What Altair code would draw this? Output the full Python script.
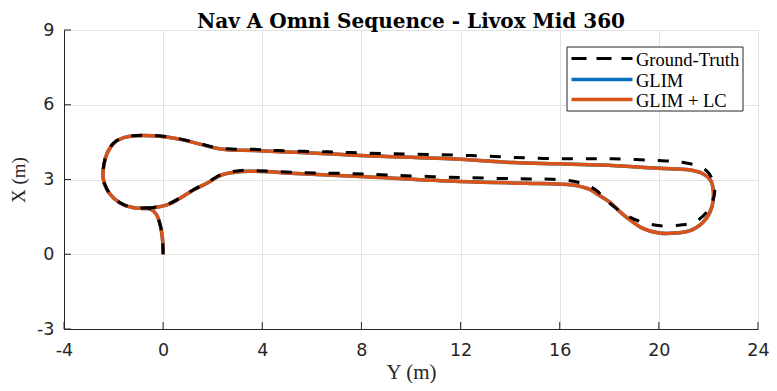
import altair as alt
import pandas as pd

series_names = ["Ground-Truth", "GLIM", "GLIM + LC"]
series_colors = ["#000000", "#0072BD", "#D95319"]

# Ground-truth trajectory (Y, X) in metres
gt_Y = [0.0, -0.03, -0.12, -0.28, -0.52, -1.06, -1.59, -1.99, -2.26, -2.42, -2.39, -2.26, -1.99, -1.59,
        -1.06, -0.46, 0.15, 0.81, 1.48, 2.02, 2.62, 3.69, 4.62, 6.63, 7.57, 9.3, 12.38, 15.19, 17.19,
        18.13, 20.0, 20.94, 21.8, 22.14, 22.25, 21.94, 21.47, 20.94, 20.07, 19.33, 18.66, 17.86, 17.46,
        16.73, 15.72, 14.79, 11.98, 9.04, 7.1, 6.1, 5.16, 4.09, 3.15, 2.35, 1.82, 1.22, 0.68, 0.15,
        -0.39, -0.9]
gt_X = [0.0, 0.65, 1.18, 1.61, 1.83, 1.86, 1.99, 2.26, 2.6, 3.06, 3.6, 4.06, 4.47, 4.69,
        4.77, 4.77, 4.72, 4.6, 4.44, 4.3, 4.23, 4.21, 4.16, 4.11, 4.08, 4.03, 3.96, 3.85, 3.83,
        3.83, 3.76, 3.69, 3.45, 3.05, 2.45, 1.71, 1.31, 1.18, 1.14, 1.29, 1.58, 2.18, 2.58,
        2.89, 3.01, 3.02, 3.08, 3.18, 3.25, 3.26, 3.29, 3.34, 3.36, 3.2, 2.9, 2.59, 2.26, 1.99,
        1.88, 1.85]

# GLIM + LC trajectory (Y, X)
lc_Y = [0.0, -0.03, -0.12, -0.28, -0.52, -1.06, -1.59, -1.99, -2.26, -2.42, -2.39, -2.26, -1.99, -1.59,
        -1.06, -0.46, 0.15, 0.81, 1.48, 2.02, 2.62, 3.69, 5.56, 7.03, 7.97, 11.98, 14.12, 15.95, 17.7,
        19.98, 21.2, 21.74, 22.08, 22.2, 22.14, 21.87, 21.34, 20.67, 20.0, 19.33, 18.66, 17.99, 17.46,
        17.19, 16.53, 15.95, 14.65, 11.98, 7.97, 6.63, 5.16, 4.09, 3.15, 2.35, 1.82, 1.22, 0.68, 0.15,
        -0.39, -0.9]
lc_X = [0.0, 0.65, 1.18, 1.61, 1.82, 1.85, 1.98, 2.25, 2.58, 3.05, 3.59, 4.05, 4.46, 4.68,
        4.76, 4.76, 4.71, 4.59, 4.42, 4.28, 4.19, 4.16, 4.08, 4.01, 3.96, 3.81, 3.68, 3.63, 3.58,
        3.45, 3.39, 3.25, 2.98, 2.52, 1.91, 1.38, 0.98, 0.85, 0.85, 1.05, 1.51, 2.11, 2.45,
        2.61, 2.78, 2.82, 2.85, 2.92, 3.12, 3.18, 3.25, 3.32, 3.32, 3.18, 2.88, 2.58, 2.25, 1.98,
        1.87, 1.84]

# GLIM trajectory: hidden under GLIM + LC in the figure (indistinguishable)
glim_Y = list(lc_Y)
glim_X = list(lc_X)

x_ticks = [-4, 0, 4, 8, 12, 16, 20, 24]
y_ticks = [-3, 0, 3, 6, 9]

W, H = 694, 299


def frame(name, ys, xs):
    return pd.DataFrame({"series": name, "i": list(range(len(ys))), "Y": ys, "X": xs})


df_gt = frame(series_names[0], gt_Y, gt_X)
df_glim = frame(series_names[1], glim_Y, glim_X)
df_lc = frame(series_names[2], lc_Y, lc_X)

label_expr = "datum.value < 0 ? '-' + abs(datum.value) : '' + datum.value"

axis_common = dict(
    grid=True, gridColor="#e2e2e2", gridWidth=1, ticks=False,
    domainColor="#262626", domainWidth=1,
    labelFont="DejaVu Sans", labelFontSize=17.5, labelColor="#262626",
    labelFlush=False, labelOverlap=False, labelBound=False, labelExpr=label_expr,
    titleFont="Liberation Serif", titleFontWeight="normal", titleColor="#262626",
)

xenc = alt.X("Y:Q", scale=alt.Scale(domain=[-4, 24], nice=False, zero=False),
             axis=alt.Axis(values=x_ticks, title="Y (m)", labelPadding=12, titlePadding=3,
                           titleFontSize=21, **axis_common))
yenc = alt.Y("X:Q", scale=alt.Scale(domain=[-3, 9], nice=False, zero=False),
             axis=alt.Axis(values=y_ticks, title="X (m)", labelPadding=10, titlePadding=8,
                           titleFontSize=19, **axis_common))
cenc = alt.Color("series:N", scale=alt.Scale(domain=series_names, range=series_colors), legend=None)


def traj(df, **mk):
    return alt.Chart(df).mark_line(interpolate="catmull-rom", **mk).encode(
        x=xenc, y=yenc, color=cenc, order="i:Q")


l_glim = traj(df_glim, strokeWidth=3.5)
l_lc = traj(df_lc, strokeWidth=3.5)
l_gt = traj(df_gt, strokeWidth=3, strokeDash=[11, 13])

# inward tick marks
xt = alt.Chart(pd.DataFrame({"v": x_ticks})).mark_rule(color="#262626", strokeWidth=1).encode(
    x=alt.X("v:Q"), y=alt.value(H), y2=alt.value(H - 7))
yt = alt.Chart(pd.DataFrame({"v": y_ticks})).mark_rule(color="#262626", strokeWidth=1).encode(
    y=alt.Y("v:Q"), x=alt.value(0), x2=alt.value(7))

# legend box
lg_left, lg_right, lg_top, lg_bottom = 503, 679, 17, 81
leg_layers = [
    alt.Chart(pd.DataFrame({"a": [0]})).mark_rect(fill="white", stroke="#262626", strokeWidth=1).encode(
        x=alt.value(lg_left), x2=alt.value(lg_right), y=alt.value(lg_top), y2=alt.value(lg_bottom))
]
row_y = [28.5, 49.5, 69.5]
for k, name in enumerate(series_names):
    dash = [15, 10] if k == 0 else [1, 0]
    leg_layers.append(
        alt.Chart(pd.DataFrame({"s": [name]})).mark_rule(
            color=series_colors[k], strokeWidth=3 if k == 0 else 3.5, strokeDash=dash).encode(
            x=alt.value(507.5), x2=alt.value(568.5), y=alt.value(row_y[k]))
    )
    leg_layers.append(
        alt.Chart(pd.DataFrame({"s": [name]})).mark_text(
            align="left", baseline="middle", font="Liberation Serif", fontSize=18.5, color="#000000").encode(
            x=alt.value(572), y=alt.value(row_y[k] + 1), text="s:N")
    )

chart = alt.layer(xt, yt, l_glim, l_lc, l_gt, *leg_layers).properties(
    width=W, height=H,
    title=alt.TitleParams("Nav A Omni Sequence - Livox Mid 360", font="DejaVu Serif", fontSize=20,
                          fontWeight="bold", color="#000000", anchor="middle", offset=-11),
    autosize=alt.AutoSizeParams(type="none"),
    padding={"left": 56, "top": 22, "right": 11, "bottom": 54},
).configure_view(stroke=None)

chart.save("out.html", embed_options={"renderer": "svg", "actions": False})
